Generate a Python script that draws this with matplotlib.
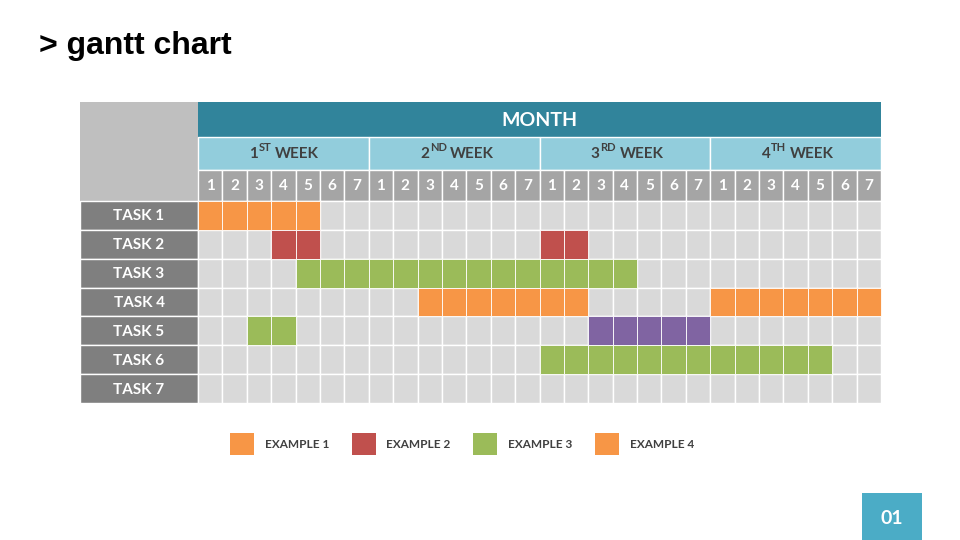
import matplotlib.pyplot as plt
from matplotlib.patches import Rectangle

plt.rcParams['font.family'] = ['Lato', 'DejaVu Sans']

# data
tasks = ["TASK 1", "TASK 2", "TASK 3", "TASK 4", "TASK 5", "TASK 6", "TASK 7"]
weeks = [("1", "ST"), ("2", "ND"), ("3", "RD"), ("4", "TH")]
days_per_week = 7
n_days = len(weeks) * days_per_week

seg_task = [0, 1, 1, 2, 3, 3, 4, 4, 5]
seg_start = [0, 3, 14, 4, 9, 21, 2, 16, 14]
seg_len = [5, 2, 2, 14, 7, 7, 2, 5, 12]
seg_color = ["orange", "red", "red", "green", "orange", "orange", "green", "purple", "green"]

legend_labels = ["EXAMPLE 1", "EXAMPLE 2", "EXAMPLE 3", "EXAMPLE 4"]
legend_colors = ["orange", "red", "green", "orange"]

palette = {"orange": "#F79646", "red": "#C0504D", "green": "#9BBB59", "purple": "#8064A2"}

# layout (pixels)
X_LEFT, X0, X1 = 80, 198, 881
CW = (X1 - X0) / n_days
Y_MONTH, Y_WEEK, Y_DAY, Y0 = 102, 137, 170, 201
RH = (403 - Y0) / len(tasks)

fig = plt.figure(figsize=(9.6, 5.4), dpi=100)
ax = fig.add_axes([0, 0, 1, 1])
ax.set_xlim(0, 960)
ax.set_ylim(540, 0)
ax.axis("off")

def rect(x, y, w, h, color, ec="white", lw=1):
    ax.add_patch(Rectangle((x, y), w, h, facecolor=color, edgecolor=ec, linewidth=lw))

# title
ax.text(39, 46, "> gantt chart", fontsize=23, fontweight="bold", family="Liberation Sans",
        ha="left", va="center", color="black")

# header blocks
rect(X_LEFT, Y_MONTH, X0 - X_LEFT, Y0 - Y_MONTH, "#BFBFBF", ec="none")
rect(X0, Y_MONTH, X1 - X0, Y_WEEK - Y_MONTH, "#31849B", ec="none")
ax.text((X0 + X1) / 2, (Y_MONTH + Y_WEEK) / 2 + 1, "MONTH", color="white", fontsize=14,
        fontweight="bold", ha="center", va="center")

for w, (num, suf) in enumerate(weeks):
    wx = X0 + w * days_per_week * CW
    rect(wx, Y_WEEK, days_per_week * CW, Y_DAY - Y_WEEK, "#92CDDC")
    cx = wx + days_per_week * CW / 2
    cy = (Y_WEEK + Y_DAY) / 2 + 1
    t1 = ax.text(cx - 34, cy, num, color="#404040", fontsize=11, fontweight="bold",
                 ha="left", va="center")
    t2 = ax.annotate(suf, xy=(1, 0.5), xycoords=t1, xytext=(0.5, 1), textcoords="offset points",
                     color="#404040", fontsize=8, fontweight="bold", ha="left", va="bottom")
    ax.annotate("WEEK", xy=(1, 0.5), xycoords=(t2, t1), xytext=(2.5, 0), textcoords="offset points",
                color="#404040", fontsize=11, fontweight="bold", ha="left", va="center")

for d in range(n_days):
    dx = X0 + d * CW
    rect(dx, Y_DAY, CW, Y0 - Y_DAY, "#A5A5A5")
    ax.text(dx + CW / 2, (Y_DAY + Y0) / 2 + 1, str(d % days_per_week + 1), color="white",
            fontsize=11, fontweight="bold", ha="center", va="center")

# task rows
for i, t in enumerate(tasks):
    y = Y0 + i * RH
    rect(X_LEFT, y, X0 - X_LEFT, RH, "#7F7F7F")
    ax.text((X_LEFT + X0) / 2, y + RH / 2 + 1, t, color="white", fontsize=11,
            fontweight="bold", ha="center", va="center")
    ax.broken_barh([(X0 + d * CW, CW) for d in range(n_days)], (y, RH),
                   facecolors="#D9D9D9", edgecolors="white", linewidth=1)

for t, s, n, c in zip(seg_task, seg_start, seg_len, seg_color):
    ax.broken_barh([(X0 + d * CW, CW) for d in range(s, s + n)], (Y0 + t * RH, RH),
                   facecolors=palette[c], edgecolors="white", linewidth=0.6)

# legend
for k, (lab, c) in enumerate(zip(legend_labels, legend_colors)):
    lx = 230 + k * 121.5
    rect(lx, 433, 24, 22, palette[c], ec="none")
    ax.text(lx + 35, 444, lab, color="#404040", fontsize=8.5, fontweight="bold",
            ha="left", va="center")

# page number box
rect(862, 493, 60, 47, "#4BACC6", ec="none")
ax.text(892, 518, "01", color="white", fontsize=14, fontweight="bold", ha="center", va="center")

fig.savefig("out.png", dpi=100)
